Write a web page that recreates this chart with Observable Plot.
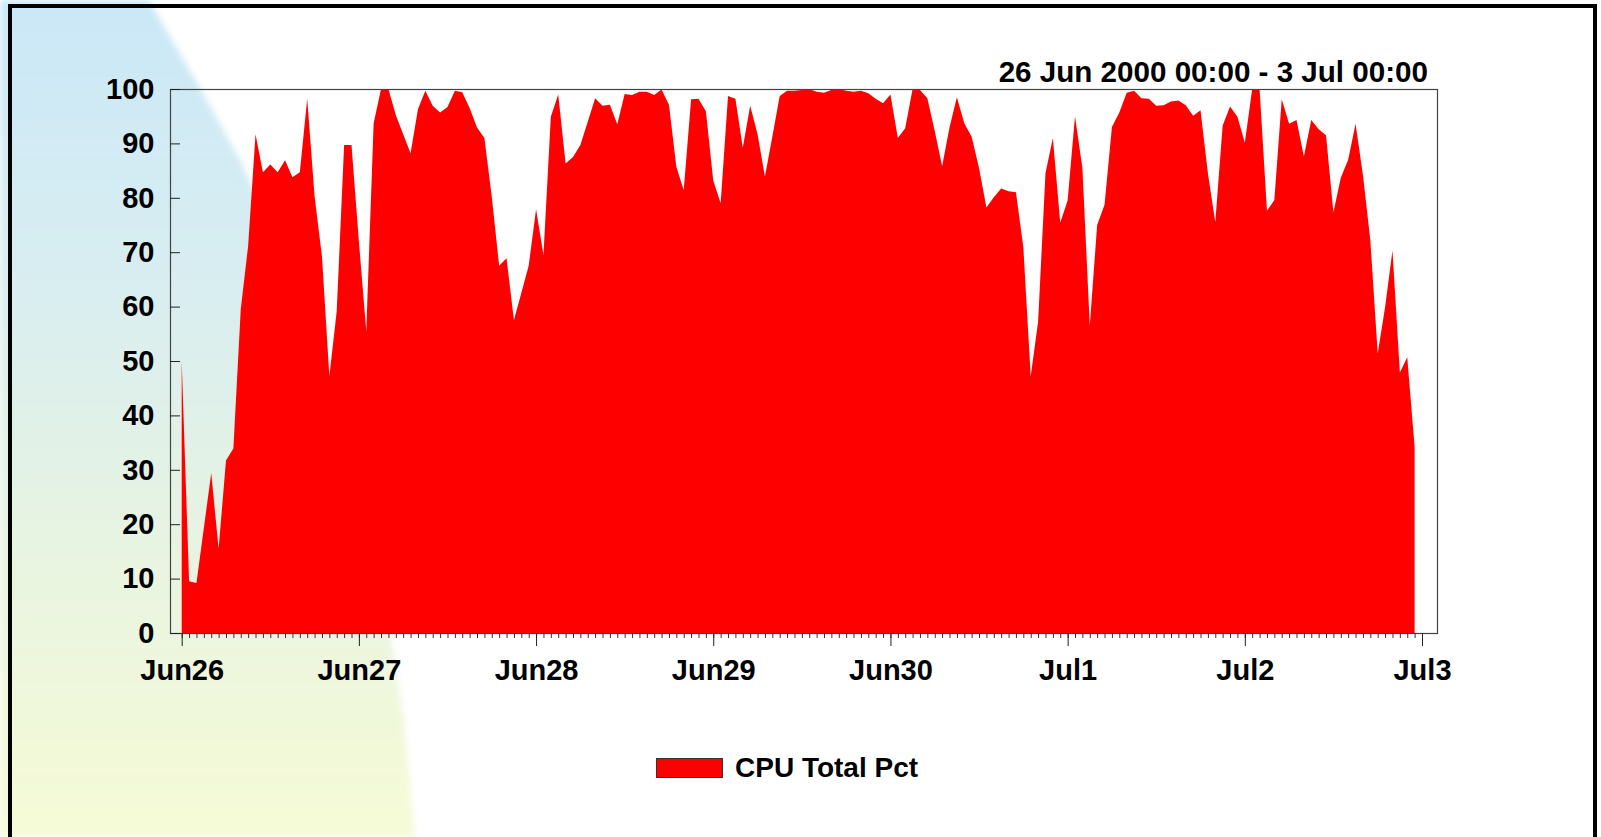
<!DOCTYPE html>
<html>
<head>
<meta charset="utf-8">
<script src="https://cdn.jsdelivr.net/npm/d3@7"></script>
<script src="https://cdn.jsdelivr.net/npm/@observablehq/plot@0.6"></script>
<style>
html, body { margin: 0; padding: 0; background: #ffffff; }
#wrap { position: relative; width: 1601px; height: 837px; overflow: hidden;
  font-family: "Liberation Sans", Arial, Helvetica, sans-serif; font-weight: bold; color: #000; }
#bgblur { position: absolute; left: 0; top: 0; width: 1601px; height: 837px; filter: blur(3px); }
#bg { position: absolute; left: 0; top: 0; width: 1601px; height: 837px;
  background: linear-gradient(to bottom, #cbe8f8 0%, #d9eef0 35%, #e8f4e2 65%, #f6fbd6 100%);
  clip-path: polygon(-10px -10px, 143px -10px, 200px 88px, 240px 160px, 300px 290px, 350px 430px, 385px 600px, 404px 720px, 416px 850px, -10px 850px); }
#border { position: absolute; left: 8px; top: 4px; width: 1581px; height: 900px; border: 4px solid #000; }
#chart { position: absolute; left: 0; top: 0; }
#title { position: absolute; right: 173px; top: 57px; font-size: 29.6px; line-height: 30px; white-space: nowrap; }
#swatch { position: absolute; left: 656px; top: 758px; width: 67px; height: 20px; box-sizing: border-box;
  background: #ff0000; border: 1px solid #333; }
#legtext { position: absolute; left: 735px; top: 754px; font-size: 28px; line-height: 28px; white-space: nowrap; }
</style>
</head>
<body>
<div id="wrap">
  <div id="bgblur"><div id="bg"></div></div>
  <div id="border"></div>
  <div id="chart"></div>
  <div id="title">26 Jun 2000 00:00 - 3 Jul 00:00</div>
  <div id="swatch"></div>
  <div id="legtext">CPU Total Pct</div>
</div>
<script>
// ---- data (hourly samples starting 26 Jun 2000 00:00) ----
const seriesName = "CPU Total Pct";
const startTime = Date.UTC(2000, 5, 26, 0, 0);
const endTime = Date.UTC(2000, 6, 3, 0, 0);
const cpuTotalPct = [
  50, 9.5, 9.2, 19.3, 29.4, 15.5, 31.7, 33.9, 59.5, 71.2, 91.7, 84.7,
  86.1, 84.7, 86.9, 83.8, 84.7, 98.2, 80.3, 69.2, 47.2, 59.2, 89.7, 89.7,
  72, 55.5, 93.7, 100, 100, 95.2, 91.7, 88.2, 96.3, 99.7, 96.9, 95.7,
  96.7, 99.7, 99.4, 96.5, 92.9, 91, 80.2, 67.5, 68.9, 57.5, 62.5, 67.5,
  77.9, 69.5, 94.9, 99, 86.3, 87.5, 89.7, 94, 98.3, 96.9, 97.1, 93.5,
  99.1, 98.9, 99.5, 99.5, 98.9, 99.9, 97.1, 85.7, 81.4, 98.1, 98.2, 95.9,
  83.2, 79, 98.7, 98.2, 89.2, 96.9, 91.7, 83.9, 91.2, 98.7, 99.7, 99.7,
  99.8, 100, 99.5, 99.3, 99.8, 100, 99.7, 99.5, 99.7, 99.2, 98.2, 97.4,
  99, 91, 92.8, 100, 99.8, 98.3, 92.3, 85.8, 92.9, 98.5, 93.7, 91.2,
  85.5, 78.2, 80.1, 81.7, 81.2, 81, 70.9, 47.2, 57.2, 84.5, 91, 75.4,
  79.5, 95, 85.5, 56.5, 75, 78.7, 93, 95.7, 99.3, 99.7, 98.3, 98.2,
  96.9, 97, 97.7, 97.9, 97, 95.1, 96.1, 84.5, 75.5, 93.3, 96.8, 94.9,
  90.1, 100, 100, 77.6, 79.6, 98.1, 93.6, 94.3, 87.6, 94.3, 92.6, 91.5,
  77.3, 83.7, 87, 93.6, 84.2, 72.2, 51.4, 59.9, 70.3, 47.9, 50.7, 34.2
];
const yTicks = [0, 10, 20, 30, 40, 50, 60, 70, 80, 90, 100];
const dayTicks = d3.utcDay.range(new Date(startTime), new Date(endTime + 1));
const hourTicks = d3.utcHour.range(new Date(startTime), new Date(endTime + 1));

const data = cpuTotalPct.map((v, i) => ({ time: new Date(startTime + i * 3600e3), value: v }));

const plot = Plot.plot({
  width: 1601,
  height: 837,
  marginLeft: 170,
  marginRight: 164,
  marginTop: 89,
  marginBottom: 204,
  style: { background: "transparent", fontSize: "29px", fontWeight: "bold",
           fontFamily: "'Liberation Sans', Arial, sans-serif", color: "#000", overflow: "visible" },
  x: { type: "utc", domain: [new Date(startTime), new Date(endTime)], range: [181.7, 1422] },
  y: { domain: [0, 100], range: [633, 89] },
  marks: [
    Plot.areaY(data, { x: "time", y: "value", fill: "#ff0000" }),
    Plot.frame({ stroke: "#444", strokeWidth: 1.2 }),
    Plot.axisY({ ticks: yTicks, tickSize: -10, tickPadding: 26, stroke: "#222", label: null, tickFormat: d => String(d) }),
    Plot.axisX({ ticks: hourTicks, tickSize: 5, stroke: "#333", label: null, tickFormat: () => "" }),
    Plot.axisX({ ticks: dayTicks, tickSize: 13, tickPadding: 13, stroke: "#222", label: null, tickFormat: d3.utcFormat("%b%-d") })
  ]
});
document.getElementById("chart").appendChild(plot);
</script>
</body>
</html>
